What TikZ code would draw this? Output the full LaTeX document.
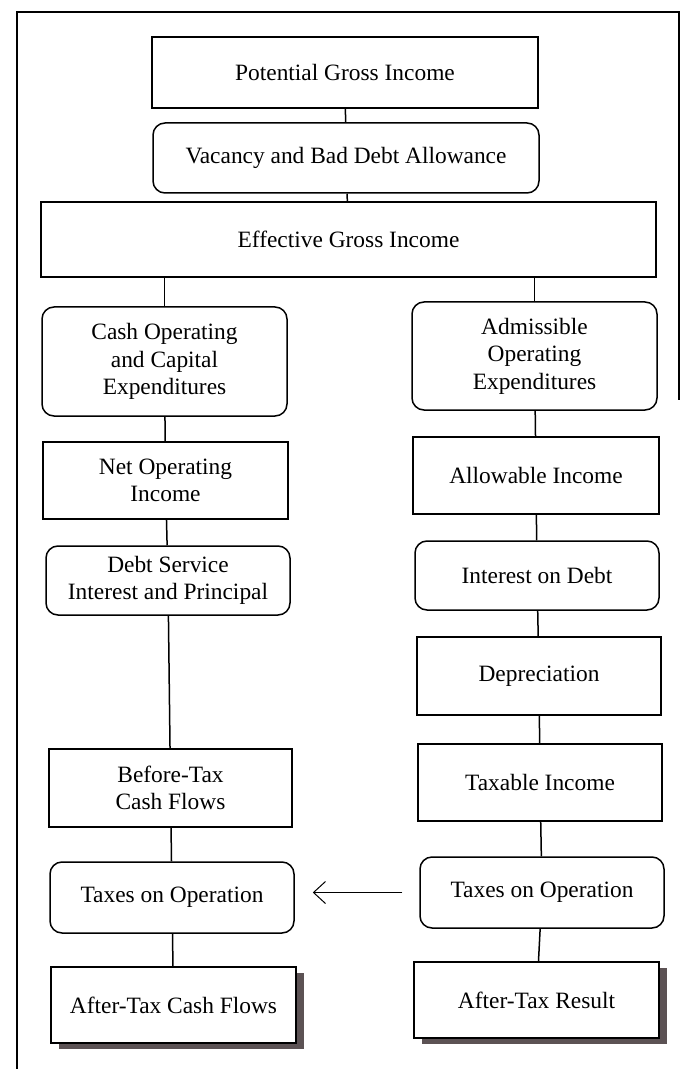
\documentclass[tikz,border=0pt]{standalone}
\usepackage{fontspec}
\setmainfont{Liberation Serif}
\usepackage{tikz}
\usetikzlibrary{shapes,arrows.meta,shadows}

\definecolor{shadowgray}{RGB}{92,82,84}

\begin{document}
\begin{tikzpicture}[x=0.5pt, y=-0.5pt, line width=0.75pt,
  box/.style={draw, rectangle, align=center, inner sep=0pt, font=\fontsize{11.7}{13.8}\selectfont},
  rbox/.style={box, rounded corners=6pt},
  sbox/.style={box, fill=white, drop shadow={shadow xshift=4pt, shadow yshift=-3pt, fill=shadowgray, opacity=1}},
  arr/.style={-{Straight Barb[length=6pt, width=11pt]}, line width=0.5pt}]
\useasboundingbox (0,0) rectangle (682,1069);
\draw[line width=0.6pt] (17,1069) -- (17,12) -- (679,12) -- (679,400);

\node (pgi) [box, minimum width=193pt, minimum height=35.5pt] at (345,72.5) {Potential Gross Income};
\node (vbda) [rbox, minimum width=193pt, minimum height=35pt] at (346,158) {Vacancy and Bad Debt Allowance};
\node (egi) [box, minimum width=307.5pt, minimum height=37.5pt] at (348.5,239.5) {Effective Gross Income};
\node (cash) [rbox, minimum width=122.5pt, minimum height=54.5pt] at (164.5,361.5) {Cash Operating\\and Capital\\Expenditures};
\node (noi) [box, minimum width=122.5pt, minimum height=38.5pt] at (165.5,480.5) {Net Operating\\Income};
\node (debt) [rbox, minimum width=122pt, minimum height=34.5pt] at (168,580.5) {Debt Service\\Interest and Principal};
\node (btcf) [box, minimum width=121.5pt, minimum height=39pt] at (170.5,788) {Before-Tax\\Cash Flows};
\node (taxl) [rbox, minimum width=122pt, minimum height=35.5pt] at (172,897.5) {Taxes on Operation};
\node (atcf) [sbox, minimum width=122.5pt, minimum height=38pt] at (173.5,1005) {After-Tax Cash Flows};
\node (adm) [rbox, minimum width=122.5pt, minimum height=54pt] at (534.5,356) {Admissible\\Operating\\Expenditures};
\node (allow) [box, minimum width=123pt, minimum height=38.5pt] at (536,475.5) {Allowable Income};
\node (intr) [rbox, minimum width=122pt, minimum height=34.5pt] at (537,575.5) {Interest on Debt};
\node (dep) [box, minimum width=122pt, minimum height=39pt] at (539,676) {Depreciation};
\node (taxi) [box, minimum width=122pt, minimum height=38.5pt] at (540,782.5) {Taxable Income};
\node (taxr) [rbox, minimum width=122pt, minimum height=35.5pt] at (542,892.5) {Taxes on Operation};
\node (atr) [sbox, minimum width=122.5pt, minimum height=38pt] at (536.5,1000) {After-Tax Result};

\draw (pgi) -- (vbda);
\draw (vbda) -- (egi);
\draw (egi.south -| cash.north) -- (cash);
\draw (egi.south -| adm.north) -- (adm);
\draw (cash) -- (noi) -- (debt) -- (btcf) -- (taxl) -- (atcf);
\draw (adm) -- (allow) -- (intr) -- (dep) -- (taxi) -- (taxr) -- (atr);
\draw[arr, shorten <=8.5pt, shorten >=9pt] (taxr.west) -- (taxr.west -| taxl.east);
\end{tikzpicture}
\end{document}
